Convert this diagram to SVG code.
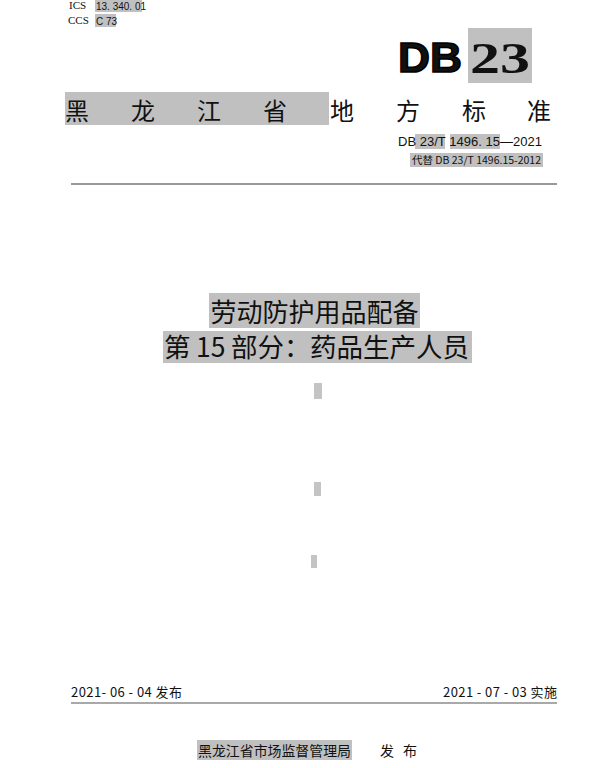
<svg xmlns="http://www.w3.org/2000/svg" width="600" height="768" viewBox="0 0 600 768">
<style>
.hl{fill:#c0c0c0}
.cjk{font-family:"Noto Sans CJK SC","Liberation Sans",sans-serif;fill:#111}
.ser{font-family:"Liberation Serif",serif;fill:#111}
.san{font-family:"Liberation Sans",sans-serif;fill:#111}
.bar{fill:#c4c4c4}
</style>
<rect width="600" height="768" fill="#fff"/>
<g id="codes">
<rect class="hl" x="95" y="0" width="47" height="12"/>
<rect class="hl" x="95" y="14" width="21" height="13"/>
<text class="ser" x="69" y="9" font-size="11">ICS</text>
<text class="san" x="96" y="9.5" font-size="10">13. 340. 01</text>
<text class="ser" x="68" y="24" font-size="11">CCS</text>
<text class="san" x="96" y="24.5" font-size="10">C 73</text>
</g>
<g id="logo">
<rect class="hl" x="468" y="28" width="64" height="55"/>
<text class="san" x="398" y="72" font-size="42" font-weight="bold" stroke="#000" stroke-width="1.5" fill="#000" textLength="64" lengthAdjust="spacingAndGlyphs">DB</text>
<text class="ser" x="470" y="73" font-size="44" font-weight="bold" fill="#000" textLength="60" lengthAdjust="spacingAndGlyphs">23</text>
</g>
<g id="heading">
<rect class="hl" x="65" y="92" width="264" height="33"/>
<text class="cjk" y="120" font-size="24" x="65 131 197 263 330 396 462 527">黑龙江省地方标准</text>
</g>
<g id="number">
<rect class="hl" x="415" y="134" width="30" height="15"/>
<rect class="hl" x="450" y="134" width="50" height="15"/>
<text class="san" x="398" y="146" font-size="13" textLength="144" lengthAdjust="spacing">DB 23/T  1496. 15—2021</text>
<rect class="hl" x="410" y="153" width="133" height="14"/>
<text class="cjk" x="412" y="164" font-size="10" textLength="129" lengthAdjust="spacingAndGlyphs">代替 DB 23/T 1496.15-2012</text>
</g>
<line x1="71" y1="184" x2="557" y2="184" stroke="#777" stroke-width="1.5"/>
<g id="title">
<rect class="hl" x="209" y="293" width="211" height="35"/>
<text class="cjk" x="314.5" y="322" font-size="26" text-anchor="middle">劳动防护用品配备</text>
<rect class="hl" x="163" y="331" width="309" height="32"/>
<text class="cjk" y="357" font-size="26.5"><tspan x="164">第</tspan><tspan x="196">15</tspan><tspan x="231">部分：</tspan><tspan x="310">药品生产人员</tspan></text>
</g>
<g id="marks">
<rect class="bar" x="314" y="383" width="8" height="16"/>
<rect class="bar" x="314" y="482" width="7" height="14"/>
<rect class="bar" x="311" y="555" width="6" height="13"/>
</g>
<g id="dates">
<text class="cjk" x="71" y="697" font-size="13" textLength="111" lengthAdjust="spacing">2021- 06 - 04 发布</text>
<text class="cjk" x="443" y="697" font-size="13" textLength="114" lengthAdjust="spacing">2021 - 07 - 03 实施</text>
<line x1="71" y1="703" x2="557" y2="703" stroke="#555" stroke-width="1.2"/>
</g>
<g id="issuer">
<rect class="hl" x="197" y="740" width="155" height="20"/>
<text class="cjk" x="198" y="756" font-size="14" textLength="153" lengthAdjust="spacingAndGlyphs">黑龙江省市场监督管理局</text>
<text class="cjk" x="380" y="756" font-size="14" textLength="37" lengthAdjust="spacing">发 布</text>
</g>
</svg>
